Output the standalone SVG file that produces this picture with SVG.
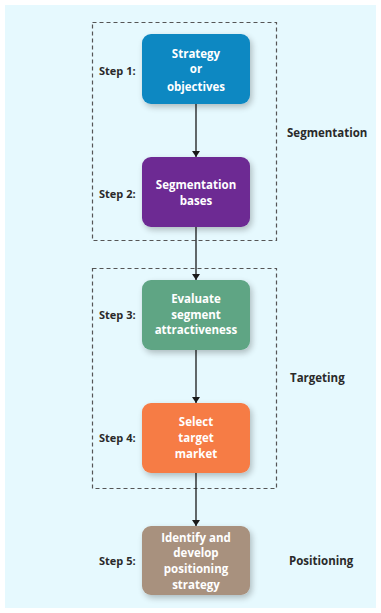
<svg xmlns="http://www.w3.org/2000/svg" width="381" height="613" viewBox="0 0 381 613">
  <defs>
    <filter id="shadow" x="-20%" y="-20%" width="150%" height="150%">
      <feGaussianBlur in="SourceAlpha" stdDeviation="3"/>
      <feOffset dx="2" dy="3" result="b"/>
      <feComponentTransfer><feFuncA type="linear" slope="0.25"/></feComponentTransfer>
      <feMerge><feMergeNode/><feMergeNode in="SourceGraphic"/></feMerge>
    </filter>
    <marker id="arrow" viewBox="0 0 10 10" refX="10" refY="5" markerWidth="6" markerHeight="8" orient="auto" markerUnits="userSpaceOnUse" preserveAspectRatio="none">
      <path d="M0,0 L10,5 L0,10 z" fill="#1a1a1a"/>
    </marker>
  </defs>
  <style>
    .box { filter: url(#shadow); }
    .btxt { font-family: "Open Sans", "Noto Sans", sans-serif; font-weight: bold; font-size: 11.5px; fill: #ffffff; text-anchor: middle; }
    .step { font-family: "Open Sans", "Noto Sans", sans-serif; font-weight: bold; font-size: 11px; fill: #2a2a2a; }
    .phase { font-family: "Open Sans", "Noto Sans", sans-serif; font-weight: bold; font-size: 11.5px; fill: #2a2a2a; }
    .group { fill: none; stroke: #555; stroke-width: 1.2; stroke-dasharray: 4 3; }
    .conn { stroke: #1a1a1a; stroke-width: 1.3; fill: none; }
  </style>

  <rect x="5" y="5" width="371" height="603" fill="#e6f9fe"/>

  <!-- dashed phase frames -->
  <rect class="group" x="92.5" y="22.5" width="184" height="218"/>
  <rect class="group" x="92.5" y="268.5" width="184" height="220"/>

  <g id="connectors">
    <line class="conn" x1="196" y1="104" x2="196" y2="157" marker-end="url(#arrow)"/>
    <line class="conn" x1="196" y1="227" x2="196" y2="280" marker-end="url(#arrow)"/>
    <line class="conn" x1="196" y1="350" x2="196" y2="403" marker-end="url(#arrow)"/>
    <line class="conn" x1="196" y1="473" x2="196" y2="526" marker-end="url(#arrow)"/>
  </g>

  <g id="step1">
    <rect class="box" x="142" y="34" width="108" height="70" rx="9" fill="#1088c2"/>
    <text class="btxt" x="196" y="58">Strategy</text>
    <text class="btxt" x="196" y="73">or</text>
    <text class="btxt" x="196" y="91">objectives</text>
    <text class="step" x="99" y="75">Step 1:</text>
  </g>

  <g id="step2">
    <rect class="box" x="142" y="157" width="108" height="70" rx="9" fill="#6d2b93"/>
    <text class="btxt" x="196" y="189">Segmentation</text>
    <text class="btxt" x="196" y="205">bases</text>
    <text class="step" x="99" y="198">Step 2:</text>
  </g>

  <g id="step3">
    <rect class="box" x="142" y="280" width="108" height="70" rx="9" fill="#5fa584"/>
    <text class="btxt" x="196" y="303">Evaluate</text>
    <text class="btxt" x="196" y="319">segment</text>
    <text class="btxt" x="196" y="334">attractiveness</text>
    <text class="step" x="99" y="319">Step 3:</text>
  </g>

  <g id="step4">
    <rect class="box" x="142" y="403" width="108" height="70" rx="9" fill="#f67b45"/>
    <text class="btxt" x="196" y="426">Select</text>
    <text class="btxt" x="196" y="442">target</text>
    <text class="btxt" x="196" y="458">market</text>
    <text class="step" x="99" y="442">Step 4:</text>
  </g>

  <g id="step5">
    <rect class="box" x="142" y="526" width="108" height="69" rx="9" fill="#a8917e"/>
    <text class="btxt" x="196" y="542">Identify and</text>
    <text class="btxt" x="196" y="557">develop</text>
    <text class="btxt" x="196" y="573">positioning</text>
    <text class="btxt" x="196" y="589">strategy</text>
    <text class="step" x="99" y="565">Step 5:</text>
  </g>

  <g id="phases">
    <text class="phase" x="287" y="137">Segmentation</text>
    <text class="phase" x="290" y="382">Targeting</text>
    <text class="phase" x="289" y="565">Positioning</text>
  </g>
</svg>
